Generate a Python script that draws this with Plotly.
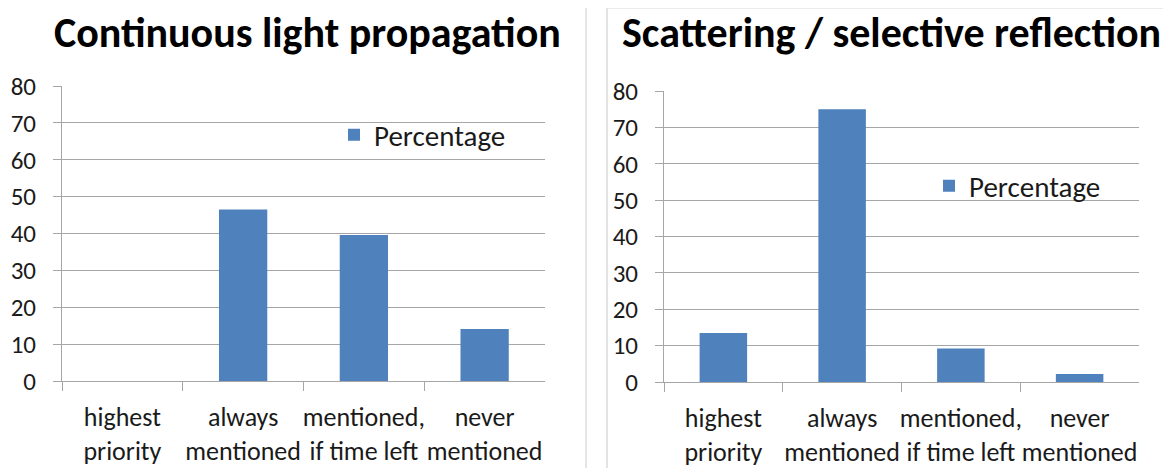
import plotly.graph_objects as go

categories = ["highest<br>priority", "always<br>mentioned", "mentioned,<br>if time left", "never<br>mentioned"]
left_values = [0, 46.5, 39.6, 14.1]
right_values = [13.5, 75.0, 9.2, 2.2]
left_title = "Continuous light propagation"
right_title = "Scattering / selective reflection"
series_name = "Percentage"
y_ticks = [0, 10, 20, 30, 40, 50, 60, 70, 80]

# page is 1171x468; the HTML body has an 8px margin, so the figure is drawn 8px smaller
OFF = 8
W, H = 1171 - OFF, 468 - OFF
FONT = "Carlito, Liberation Sans Narrow, sans-serif"
BAR = "#4f81bd"
GRID = "#a6a6a6"

def px(x):
    return (x - OFF) / W

def py(y):
    return 1 - (y - OFF) / H

fig = go.Figure()
fig.add_trace(go.Bar(x=categories, y=left_values, name=series_name, marker=dict(color=BAR, line=dict(width=0)),
                     width=0.4, xaxis="x", yaxis="y", legend="legend", showlegend=True))
fig.add_trace(go.Bar(x=categories, y=right_values, name=series_name, marker=dict(color=BAR, line=dict(width=0)),
                     width=0.4, xaxis="x2", yaxis="y2", legend="legend2", showlegend=True))

xcommon = dict(showgrid=False, showline=True, linecolor=GRID, linewidth=1, ticks="outside", ticklen=9,
               tickcolor=GRID, tickson="boundaries", tickangle=0, automargin=False,
               tickfont=dict(family=FONT, size=26, color="#1a1a1a"), ticklabelstandoff=13,
               fixedrange=True, zeroline=False)
ycommon = dict(range=[0, 80], tickvals=y_ticks, showgrid=True, gridcolor=GRID, gridwidth=1, showline=True,
               linecolor=GRID, linewidth=1, ticks="outside", ticklen=8, tickcolor=GRID, automargin=False,
               tickfont=dict(family=FONT, size=25, color="#1a1a1a"), ticklabelstandoff=12, zeroline=False)

fig.update_layout(
    width=W, height=H, margin=dict(l=0, r=0, t=0, b=0),
    paper_bgcolor="white", plot_bgcolor="white",
    xaxis=dict(domain=[px(62), px(545)], anchor="y", **xcommon),
    yaxis=dict(domain=[py(381), py(86)], anchor="x", **ycommon),
    xaxis2=dict(domain=[px(664), px(1139)], anchor="y2", **xcommon),
    yaxis2=dict(domain=[py(382), py(91)], anchor="x2", **ycommon),
    legend=dict(x=px(334), y=py(135), xanchor="left", yanchor="middle", bgcolor="rgba(0,0,0,0)",
                font=dict(family=FONT, size=29, color="#1a1a1a"), itemwidth=30),
    legend2=dict(x=px(929), y=py(186), xanchor="left", yanchor="middle", bgcolor="rgba(0,0,0,0)",
                 font=dict(family=FONT, size=29, color="#1a1a1a"), itemwidth=30),
    bargap=0.6,
    annotations=[
        dict(text="<b>" + left_title + "</b>", x=px(307), y=py(32), xref="paper", yref="paper",
             showarrow=False, xanchor="center", yanchor="middle", font=dict(family=FONT, size=42, color="black")),
        dict(text="<b>" + right_title + "</b>", x=px(891), y=py(32), xref="paper", yref="paper",
             showarrow=False, xanchor="center", yanchor="middle", font=dict(family=FONT, size=42, color="black")),
    ],
    shapes=[
        dict(type="line", xref="paper", yref="paper", x0=px(586), x1=px(586), y0=0, y1=1,
             line=dict(color="#cccccc", width=1)),
        dict(type="line", xref="paper", yref="paper", x0=px(607), x1=px(607), y0=0, y1=py(8),
             line=dict(color="#c8c8c8", width=1)),
        dict(type="line", xref="paper", yref="paper", x0=px(607), x1=1, y0=py(8), y1=py(8),
             line=dict(color="#d8d8d8", width=1)),
    ],
)

fig.write_html("out.html")
